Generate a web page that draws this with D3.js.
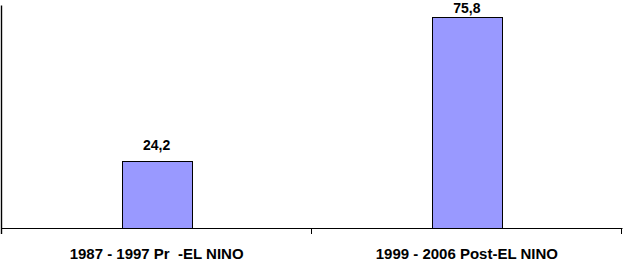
<!DOCTYPE html>
<html>
<head>
<meta charset="utf-8">
<script src="https://cdn.jsdelivr.net/npm/d3@7"></script>
<style>
  html, body { margin: 0; padding: 0; background: #fff; }
  svg { display: block; }
  text { font-family: "Liberation Sans", Arial, sans-serif; font-weight: bold; fill: #000; }
</style>
</head>
<body>
<svg id="chart" width="624" height="264"></svg>
<script>
const categories = ["1987 - 1997 Pr  -EL NINO", "1999 - 2006 Post-EL NINO"];
const values = [24.2, 75.8];
const valueLabels = ["24,2", "75,8"];

const svg = d3.select("#chart");
const x = d3.scaleBand().domain(categories).range([1.5, 622]).paddingInner(0.774).paddingOuter(0.387);
const y = d3.scaleLinear().domain([0, 80]).range([228, 5.5]);

const data = categories.map((c, i) => ({ c, v: values[i], l: valueLabels[i] }));

// bars
svg.selectAll("rect.bar").data(data).enter().append("rect")
  .attr("class", "bar")
  .attr("x", d => Math.round(x(d.c)) + 0.5)
  .attr("y", d => Math.round(y(d.v)) + 0.5)
  .attr("width", Math.round(x.bandwidth()))
  .attr("height", d => Math.round(y(0)) - Math.round(y(d.v)))
  .attr("fill", "#9999FF")
  .attr("stroke", "#000")
  .attr("stroke-width", 1);

// value labels (kept inside the top edge)
svg.selectAll("text.val").data(data).enter().append("text")
  .attr("class", "val")
  .attr("x", d => x(d.c) + x.bandwidth() / 2)
  .attr("y", d => Math.max(y(d.v) - 11, 12.5))
  .attr("text-anchor", "middle")
  .style("font-size", "14px")
  .text(d => d.l);

// y axis line
svg.append("line")
  .attr("x1", 1.5).attr("x2", 1.5)
  .attr("y1", y.range()[1]).attr("y2", 234)
  .attr("stroke", "#000").attr("stroke-width", 1.4);

// x axis baseline
svg.append("line")
  .attr("x1", 1).attr("x2", 622.5)
  .attr("y1", 228.5).attr("y2", 228.5)
  .attr("stroke", "#000").attr("stroke-width", 1);

// category boundary ticks
const step = x.step();
const boundaries = d3.range(categories.length + 1).map(i => 1.5 + i * step);
svg.selectAll("line.tick").data(boundaries.slice(1)).enter().append("line")
  .attr("class", "tick")
  .attr("x1", d => Math.round(d) - 0.5).attr("x2", d => Math.round(d) - 0.5)
  .attr("y1", 228).attr("y2", 234)
  .attr("stroke", "#000").attr("stroke-width", 1);

// category labels
svg.selectAll("text.cat").data(data).enter().append("text")
  .attr("class", "cat")
  .attr("x", d => x(d.c) + x.bandwidth() / 2)
  .attr("y", 259)
  .attr("text-anchor", "middle")
  .style("font-size", "15px")
  .style("white-space", "pre")
  .attr("xml:space", "preserve")
  .text(d => d.c);
</script>
</body>
</html>
